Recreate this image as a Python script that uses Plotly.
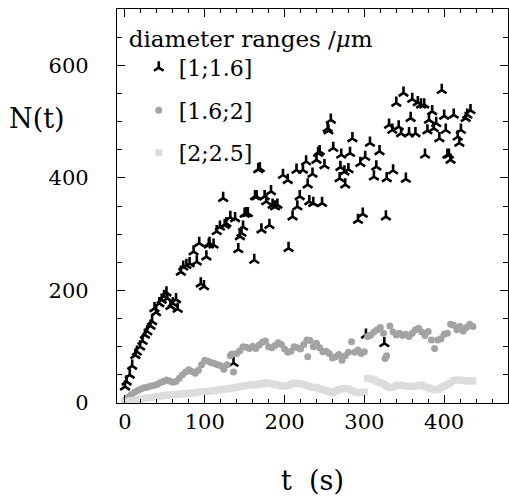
import plotly.graph_objects as go

# Series [1;1.6] (black tri markers)
t_a = [0, 2, 6, 9, 13, 15, 19, 22, 25, 28, 32, 34, 37, 39, 43, 46, 49, 52, 53, 57, 60, 64, 66, 70, 73, 77, 81, 86, 90, 93, 95, 99, 102, 105, 106, 111, 115, 119, 123, 125, 127, 132, 136, 138, 142, 144, 146, 148, 150, 152, 154, 162, 163, 165, 167, 169, 171, 175, 177, 181, 183, 185, 188, 191, 198, 204, 205, 210, 215, 216, 219, 223, 227, 229, 231, 235, 236, 240, 242, 244, 247, 250, 254, 255, 258, 261, 269, 270, 271, 275, 276, 280, 282, 285, 292, 295, 298, 301, 302, 307, 312, 315, 319, 325, 327, 328, 331, 335, 336, 340, 343, 346, 349, 352, 356, 358, 360, 364, 367, 371, 375, 376, 379, 381, 385, 387, 390, 394, 397, 400, 402, 404, 406, 408, 412, 417, 419, 421, 427, 429, 433]
n_a = [29, 38, 50, 66, 85, 91, 100, 110, 121, 127, 137, 145, 168, 161, 177, 183, 190, 196, 186, 172, 177, 184, 167, 233, 242, 245, 248, 269, 251, 284, 212, 207, 260, 281, 284, 281, 305, 313, 364, 316, 319, 330, 71, 328, 273, 296, 302, 313, 336, 337, 337, 254, 367, 367, 415, 417, 308, 367, 358, 316, 376, 352, 349, 352, 405, 396, 275, 331, 414, 349, 367, 414, 429, 388, 358, 407, 355, 432, 444, 447, 355, 422, 488, 484, 503, 453, 399, 419, 441, 411, 388, 415, 444, 470, 325, 426, 336, 437, 121, 462, 402, 420, 447, 106, 331, 399, 494, 485, 413, 533, 491, 479, 551, 398, 479, 506, 540, 479, 534, 530, 530, 441, 484, 503, 518, 488, 497, 470, 556, 510, 485, 441, 441, 432, 512, 473, 462, 485, 506, 512, 520]

# Series [1.6;2] (gray circles)
t_b = [0, 4, 8, 12, 16, 20, 24, 28, 32, 36, 40, 44, 48, 52, 56, 60, 64, 68, 72, 76, 80, 84, 88, 92, 96, 100, 104, 108, 112, 116, 120, 124, 128, 132, 134, 136, 140, 144, 148, 152, 156, 160, 164, 168, 172, 176, 180, 184, 188, 192, 196, 200, 204, 208, 212, 216, 220, 224, 228, 229, 232, 236, 240, 244, 248, 252, 256, 260, 264, 268, 272, 276, 280, 284, 288, 292, 296, 300, 304, 308, 312, 316, 320, 324, 326, 328, 332, 336, 340, 344, 348, 352, 356, 360, 364, 368, 372, 376, 380, 384, 388, 392, 396, 400, 404, 408, 412, 416, 420, 424, 428, 432, 436]
n_b = [5, 10, 15, 19, 22, 25, 27, 28, 30, 31, 33, 36, 38, 41, 39, 37, 38, 44, 50, 55, 59, 56, 53, 58, 68, 76, 74, 72, 70, 68, 66, 60, 68, 84, 87, 55, 88, 93, 100, 99, 97, 101, 97, 103, 108, 110, 100, 98, 102, 107, 104, 96, 90, 92, 100, 98, 96, 104, 112, 82, 111, 100, 106, 98, 91, 92, 88, 80, 82, 86, 76, 84, 90, 109, 90, 94, 88, 91, 118, 121, 126, 130, 134, 124, 79, 84, 137, 126, 121, 124, 120, 122, 118, 124, 130, 133, 126, 120, 127, 112, 97, 112, 114, 122, 124, 140, 138, 130, 136, 128, 134, 140, 136]

# Series [2;2.5] (light gray squares)
t_c = [0, 4, 8, 12, 16, 20, 24, 28, 32, 36, 40, 44, 48, 52, 56, 60, 64, 68, 72, 76, 80, 84, 88, 92, 96, 100, 104, 108, 112, 116, 120, 124, 128, 132, 136, 140, 144, 148, 152, 156, 160, 164, 168, 172, 176, 180, 184, 188, 192, 196, 200, 204, 208, 212, 216, 220, 224, 228, 232, 236, 240, 244, 248, 252, 256, 260, 264, 268, 272, 276, 280, 284, 288, 292, 296, 300, 304, 308, 312, 316, 320, 324, 328, 332, 336, 340, 344, 348, 352, 356, 360, 364, 368, 372, 376, 380, 384, 388, 392, 396, 400, 404, 408, 412, 416, 420, 424, 428, 432, 436]
n_c = [2, 3, 4, 5, 6, 7, 8, 9, 10, 10, 11, 12, 13, 14, 14, 15, 15, 16, 16, 17, 17, 18, 18, 19, 20, 20, 21, 21, 22, 23, 24, 25, 25, 26, 27, 28, 29, 30, 31, 32, 33, 32, 34, 34, 36, 35, 34, 33, 32, 30, 30, 31, 33, 35, 35, 34, 33, 31, 29, 27, 28, 25, 24, 22, 20, 18, 21, 24, 25, 26, 25, 22, 20, 19, 18, 20, 44, 43, 41, 38, 36, 34, 30, 27, 28, 31, 32, 31, 30, 30, 29, 30, 31, 32, 29, 27, 25, 23, 24, 27, 30, 33, 36, 40, 41, 41, 40, 39, 40, 39]

x_ticks = [0, 100, 200, 300, 400]
y_ticks = [0, 200, 400, 600]

FONT = "DejaVu Serif"

fig = go.Figure()
fig.add_trace(go.Scatter(
    x=t_a, y=n_a, mode="markers", name="[1;1.6]", legendgroup="a",
    marker=dict(symbol="y-up", size=8, color="black",
                line=dict(color="black", width=2.6)),
))
fig.add_trace(go.Scatter(
    x=t_b, y=n_b, mode="markers", name="[1.6;2]", legendgroup="b",
    marker=dict(symbol="circle", size=7, color="#a3a3a3", line=dict(width=0)),
))
fig.add_trace(go.Scatter(
    x=t_c, y=n_c, mode="markers", name="[2;2.5]", legendgroup="c",
    marker=dict(symbol="square", size=7, color="#dcdcdc", line=dict(width=0)),
))

axis_common = dict(
    showline=True, linecolor="black", linewidth=1.2, mirror="allticks",
    ticks="inside", tickcolor="black", ticklen=8, tickwidth=1,
    showgrid=False, zeroline=False,
    tickfont=dict(family=FONT, size=21, color="black"),
)

fig.update_layout(
    width=509, height=500,
    margin=dict(l=117, r=1, t=9, b=97),
    paper_bgcolor="white", plot_bgcolor="white",
    xaxis=dict(range=[-10, 480], tickvals=x_ticks,
               minor=dict(dtick=20, ticklen=4, ticks="inside", tickcolor="black"),
               **axis_common),
    yaxis=dict(range=[0, 700], tickvals=y_ticks, ticklabelstandoff=23,
               minor=dict(dtick=50, ticklen=5, ticks="inside", tickcolor="black"),
               **axis_common),
    showlegend=True,
    legend=dict(
        x=0.025, y=0.98, xanchor="left", yanchor="top",
        bgcolor="rgba(0,0,0,0)", borderwidth=0,
        title=dict(text="diameter ranges /<i>μ</i>m",
                   font=dict(family=FONT, size=23, color="black")),
        font=dict(family=FONT, size=22, color="black"),
        tracegroupgap=11, indentation=12,
    ),
    annotations=[
        dict(text="N(t)", xref="paper", yref="paper",
             x=(37 - 117) / 391, y=(403 - 118) / 394,
             xanchor="center", yanchor="middle", showarrow=False,
             font=dict(family=FONT, size=27, color="black")),
        dict(text="t\u00a0\u00a0(s)", xref="paper", yref="paper",
             x=(312 - 117) / 391, y=(403 - 480) / 394,
             xanchor="center", yanchor="middle", showarrow=False,
             font=dict(family=FONT, size=27, color="black")),
    ],
)

fig.write_html("out.html", config={"displayModeBar": False},
               post_script="document.body.style.margin='0px';")
